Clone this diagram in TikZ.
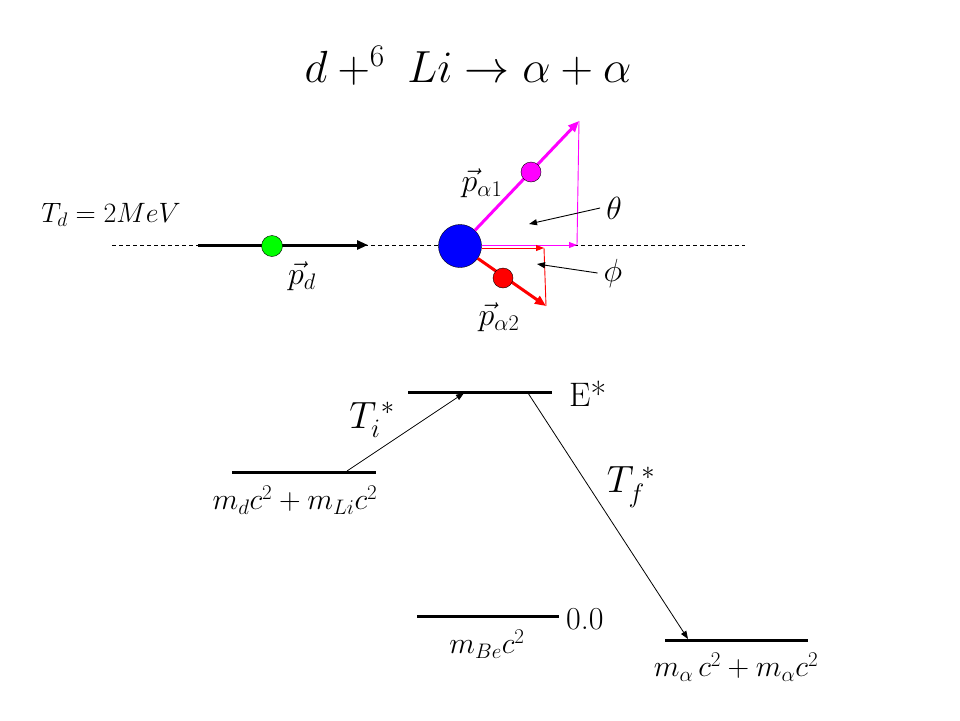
\RequirePackage{fix-cm}
\documentclass[tikz,border=0pt]{standalone}
\usepackage{amsmath}
\usepackage{tikz}
\usetikzlibrary{arrows.meta}
\definecolor{pmag}{HTML}{FF00FF}
\definecolor{pred}{HTML}{FF0000}
\definecolor{pblue}{HTML}{0000FF}
\definecolor{pgreen}{HTML}{00FF00}
\def\fs#1{\fontsize{#1}{#1}\selectfont}
\tikzset{
	ball/.style={
		circle,
		draw=black,
		inner sep=0pt,
		minimum size=#1,
	},
	level/.style={line width=3pt},
	thick arrow/.style={line width=3pt, -{Triangle[length=11pt,width=9pt]}},
	thin arrow/.style={line width=0.9pt, -{Triangle[length=8pt,width=6pt]}},
	lbl/.style={inner sep=0pt},
}

\begin{document}
\begin{tikzpicture}[x=1pt, y=-1pt]
    \useasboundingbox (0,0) rectangle (960,720);
    % reaction
    \node[lbl, font=\fs{45}] (title) at (468,66) {$d+^{6}\;Li\rightarrow\alpha+\alpha$};

    % beam axis
    \coordinate (axisL) at (112,245);
    \coordinate (axisR) at (745,245);
    \draw[dashed, dash pattern=on 4pt off 3pt, line width=0.8pt] (axisL) -- (axisR);

    % incoming deuteron
    \coordinate (dstart) at (198,245);
    \coordinate (dend) at (368,245);
    \draw[thick arrow] (dstart) -- (dend);
    \node[ball=21pt, fill=pgreen] (deut) at (272,246) {};
    \node[lbl, font=\fs{28}] (Td) at (111,215) {$T_d=2MeV$};
    \node[lbl, font=\fs{32}] (pd) at (302,276) {$\vec{p}_d$};

    % target and alphas
    \node[ball=43pt, fill=pblue] (nuc) at (460,246) {};
    \coordinate (a1tip) at (579,121);
    \coordinate (a1foot) at (577,245);
    \coordinate (a2tip) at (546,306);
    \coordinate (a2foot) at (544,248);
    \draw[thick arrow, pmag] (nuc) -- (a1tip);
    \draw[thick arrow, pred] (nuc) -- (a2tip);
    \draw[thin arrow, pmag] (nuc.east) ++(0,-1) -- (a1foot);
    \draw[pmag, line width=0.9pt] (a1foot) -- (a1tip);
    \draw[thin arrow, pred] (nuc.east) ++(0,2) -- (a2foot);
    \draw[pred, line width=0.9pt] (a2foot) -- (a2tip);
    \node[ball=20pt, fill=pmag] (alpha1) at (531,172) {};
    \node[ball=20pt, fill=pred] (alpha2) at (503,278) {};
    \node[lbl, font=\fs{32}] (pa1) at (482,183) {$\vec{p}_{\alpha1}$};
    \node[lbl, font=\fs{32}] (pa2) at (499,317) {$\vec{p}_{\alpha2}$};

    % angles
    \node[lbl, font=\fs{32}] (theta) at (614,208) {$\theta$};
    \node[lbl, font=\fs{32}] (phi) at (613,273) {$\phi$};
    \coordinate (thetapt) at (529,224);
    \coordinate (phipt) at (537,264);
    \draw[thin arrow, black] (theta.west) ++(-6,0) -- (thetapt);
    \draw[thin arrow, black] (phi.west) ++(-6,0) -- (phipt);

    % energy levels
    \coordinate (exL) at (408,392);
    \coordinate (exR) at (552,392);
    \coordinate (inL) at (232,472);
    \coordinate (inR) at (376,472);
    \coordinate (beL) at (417,616);
    \coordinate (beR) at (559,616);
    \coordinate (aaL) at (665,640);
    \coordinate (aaR) at (808,640);
    \draw[level] (exL) -- (exR);
    \draw[level] (inL) -- (inR);
    \draw[level] (beL) -- (beR);
    \draw[level] (aaL) -- (aaR);

    \node[lbl, anchor=west, font=\fs{34}] (Estar) at (569,394) {E*};
    \node[lbl, anchor=west, font=\fs{32}] (zero) at (566,619) {0.0};
    \node[lbl, font=\fs{30}] (inlbl) at (295,500) {$m_d c^2+m_{Li}c^2$};
    \node[lbl, font=\fs{30}] (belbl) at (487,644) {$m_{Be}c^2$};
    \node[lbl, font=\fs{30}] (aalbl) at (736,667) {$m_\alpha\, c^2+m_\alpha c^2$};

    % transitions
    \coordinate (tiA) at (347,471);
    \coordinate (tiB) at (464,393);
    \coordinate (tfA) at (528,393);
    \coordinate (tfB) at (688,639);
    \draw[line width=0.8pt, -{Triangle[length=8pt,width=6pt]}] (tiA) -- (tiB);
    \draw[line width=0.8pt, -{Triangle[length=8pt,width=6pt]}] (tfA) -- (tfB);
    \node[lbl, font=\fs{38}] (Ti) at (372,420) {$T_i^{\,*}$};
    \node[lbl, font=\fs{38}] (Tf) at (631,487) {$T_f^{\;*}$};
\end{tikzpicture}
\end{document}
